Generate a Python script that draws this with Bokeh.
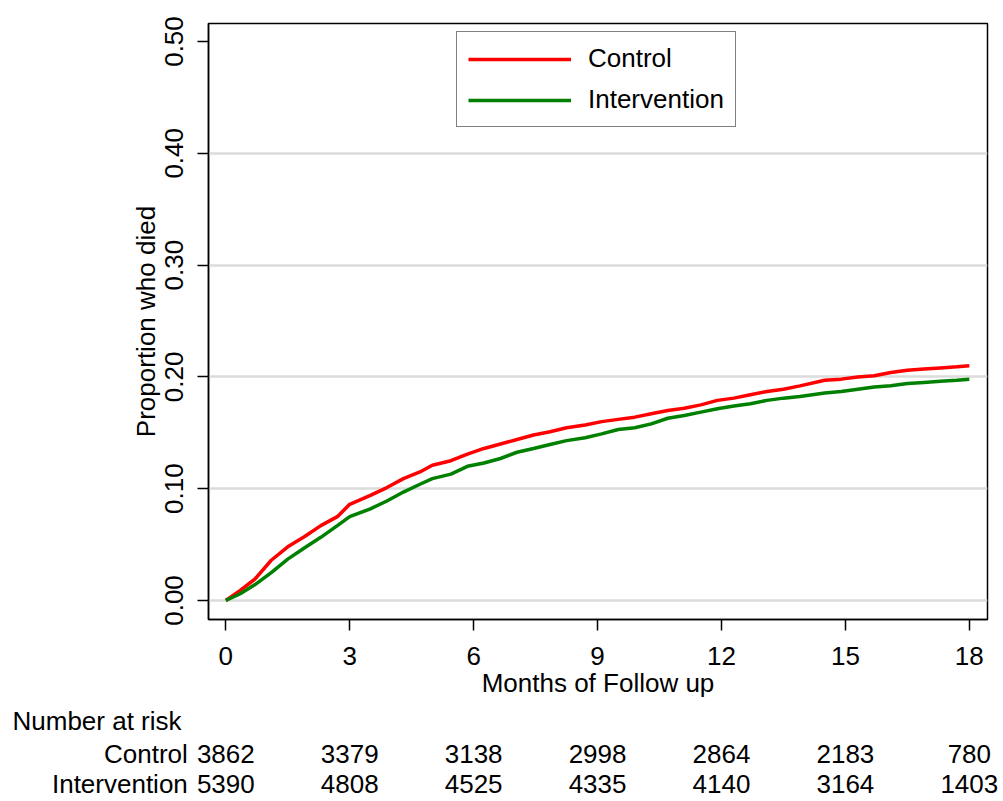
from bokeh.plotting import figure
from bokeh.models import (Range1d, FixedTicker, NumeralTickFormatter, Legend, LegendItem,
                          ColumnDataSource)
from bokeh.core.properties import value
from bokeh.embed import file_html
from bokeh.resources import INLINE

# ---- data ----
months = [0, 0.35, 0.7, 1.1, 1.5, 1.9, 2.3, 2.7, 3.0, 3.5, 3.9, 4.3, 4.7, 5.0, 5.45, 5.85,
          6.25, 6.65, 7.05, 7.45, 7.85, 8.25, 8.7, 9.1, 9.5, 9.9, 10.3, 10.7, 11.1, 11.5,
          11.9, 12.3, 12.7, 13.1, 13.5, 13.9, 14.5, 14.9, 15.3, 15.7, 16.1, 16.5, 16.9,
          17.3, 17.7, 18.0]
control = [0, 0.009, 0.019, 0.036, 0.048, 0.057, 0.067, 0.075, 0.086, 0.094, 0.101, 0.109,
           0.115, 0.121, 0.125, 0.131, 0.136, 0.140, 0.144, 0.148, 0.151, 0.1545, 0.157,
           0.160, 0.162, 0.164, 0.167, 0.170, 0.172, 0.175, 0.179, 0.181, 0.184, 0.187,
           0.189, 0.192, 0.197, 0.198, 0.200, 0.201, 0.204, 0.206, 0.207, 0.208, 0.209, 0.210]
intervention = [0, 0.006, 0.014, 0.025, 0.037, 0.047, 0.0565, 0.067, 0.075, 0.082, 0.089,
                0.097, 0.104, 0.109, 0.113, 0.120, 0.123, 0.127, 0.1326, 0.136, 0.1395,
                0.143, 0.1455, 0.149, 0.153, 0.1545, 0.158, 0.163, 0.1655, 0.1685, 0.1715,
                0.174, 0.176, 0.179, 0.181, 0.1825, 0.1855, 0.187, 0.189, 0.191, 0.192,
                0.194, 0.195, 0.196, 0.197, 0.198]

x_ticks = [0, 3, 6, 9, 12, 15, 18]
y_ticks = [0.0, 0.1, 0.2, 0.3, 0.4, 0.5]
grid_ticks = [0.0, 0.1, 0.2, 0.3, 0.4]
risk_title = "Number at risk"
group_names = ["Control", "Intervention"]
risk_times = [0, 3, 6, 9, 12, 15, 18]
risk_control = [3862, 3379, 3138, 2998, 2864, 2183, 780]
risk_intervention = [5390, 4808, 4525, 4335, 4140, 3164, 1403]

FONT = "Liberation Sans"
FS = "26px"

W = 995
BL, BR = 208, 8
X0, X1 = -0.419, 18.44
H1 = 705

p = figure(width=W, height=H1, output_backend="svg", toolbar_location=None,
           x_range=Range1d(X0, X1), y_range=Range1d(-0.017, 0.5161),
           min_border_left=BL, min_border_right=BR, min_border_top=23,
           min_border_bottom=H1 - 619)
p.outline_line_color = "black"
p.outline_line_width = 1.5

# grid
p.xgrid.visible = False
p.ygrid.ticker = FixedTicker(ticks=grid_ticks)
p.ygrid.grid_line_color = "#dcdcdc"
p.ygrid.grid_line_width = 2.5

# axes
for ax in (p.xaxis[0], p.yaxis[0]):
    ax.axis_line_color = "black"
    ax.axis_line_width = 1.5
    ax.major_tick_line_color = "black"
    ax.major_tick_line_width = 1.5
    ax.major_tick_out = 11
    ax.major_tick_in = 0
    ax.minor_tick_line_color = None
    ax.major_label_text_font = FONT
    ax.major_label_text_font_size = FS
    ax.major_label_text_color = "black"
    ax.axis_label_text_font = FONT
    ax.axis_label_text_font_size = FS
    ax.axis_label_text_font_style = "normal"
    ax.axis_label_text_color = "black"

p.xaxis.ticker = FixedTicker(ticks=x_ticks)
p.yaxis.ticker = FixedTicker(ticks=y_ticks)
p.yaxis.formatter = NumeralTickFormatter(format="0.00")
p.yaxis.major_label_orientation = "vertical"
p.xaxis.axis_label = "Months of Follow up"
p.yaxis.axis_label = "Proportion who died"
p.xaxis.major_label_standoff = 16
p.xaxis.axis_label_standoff = 0
p.yaxis.major_label_standoff = 14
p.yaxis.axis_label_standoff = 2

src = ColumnDataSource(dict(t=months, c=control, i=intervention))
r_c = p.line("t", "c", source=src, line_color="#ff0000", line_width=3.5)
r_i = p.line("t", "i", source=src, line_color="#008000", line_width=3.5)

legend = Legend(items=[LegendItem(label="Control", renderers=[r_c]),
                       LegendItem(label="Intervention", renderers=[r_i])],
                location=(248, 492))
legend.label_text_font = FONT
legend.label_text_font_size = FS
legend.label_text_color = "black"
legend.glyph_width = 103
legend.glyph_height = 30
legend.label_height = 30
legend.spacing = 10
legend.padding = 11
legend.margin = 0
legend.label_standoff = 17
legend.border_line_color = "black"
legend.border_line_width = 1.5
legend.background_fill_alpha = 1.0
p.add_layout(legend, "center")

# ---- number at risk table: a second, axis-less figure sharing the x scale ----
scale = (W - BL - BR) / (X1 - X0)          # pixels per month
W2 = 1003
T0 = X0 - BL / scale                        # data x at the canvas' left edge
T1 = X1 + (W2 - (W - BR)) / scale           # data x at the canvas' right edge
H2 = 801 - H1
t = figure(width=W2, height=H2, output_backend="svg", toolbar_location=None,
           x_range=Range1d(T0, T1), y_range=Range1d(0, H2),
           x_axis_location=None, y_axis_location=None, min_border=0,
           min_border_left=0, min_border_right=0, min_border_top=0, min_border_bottom=0)
t.outline_line_color = None
t.grid.visible = False

# rows placed by their page position (801 - y)
title_y = 801 - 720
row_y = [801 - 753, 801 - 783]
t.text(x=[T0 + 12 / scale], y=[title_y], text=[risk_title], text_font=value(FONT),
       text_font_size=value(FS), text_color="black", text_align="left", text_baseline="middle")
t.text(x=[risk_times[0]] * 2, y=row_y, text=group_names, x_offset=-38,
       text_font=value(FONT), text_font_size=value(FS), text_color="black",
       text_align="right", text_baseline="middle")
for vals, yy in zip([risk_control, risk_intervention], row_y):
    t.text(x=risk_times, y=[yy] * len(risk_times), text=[str(v) for v in vals],
           text_font=value(FONT), text_font_size=value(FS), text_color="black",
           text_align="center", text_baseline="middle")

open("out.html", "w").write(file_html([p, t], INLINE))
